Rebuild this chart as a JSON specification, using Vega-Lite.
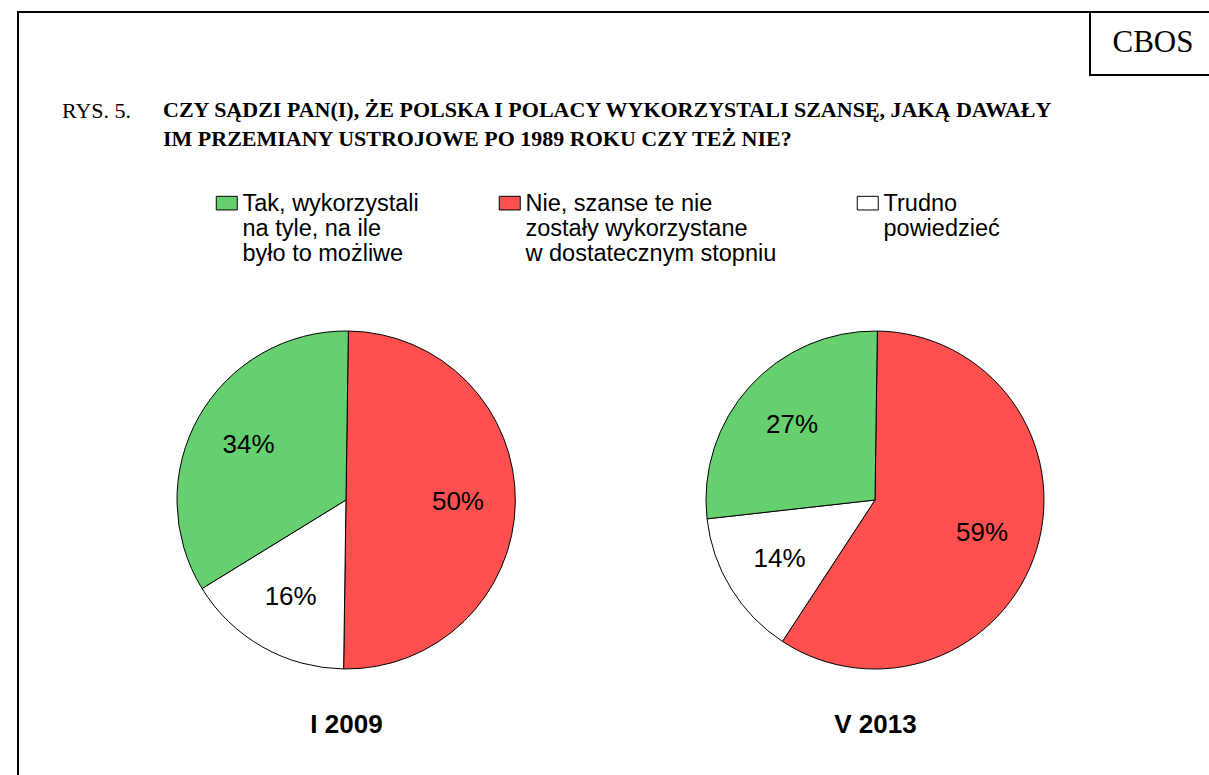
{
  "$schema": "https://vega.github.io/schema/vega-lite/v6.json",
  "width": 1209,
  "height": 550,
  "autosize": {"type": "none"},
  "padding": {"left": 0, "top": 225, "right": 0, "bottom": 0},
  "background": "white",
  "data": {
    "values": [
      {"survey": "I 2009", "answer": "Nie, szanse te nie zostały wykorzystane w dostatecznym stopniu", "share": 0.50, "order": 1},
      {"survey": "I 2009", "answer": "Trudno powiedzieć", "share": 0.16, "order": 2},
      {"survey": "I 2009", "answer": "Tak, wykorzystali na tyle, na ile było to możliwe", "share": 0.34, "order": 3},
      {"survey": "V 2013", "answer": "Nie, szanse te nie zostały wykorzystane w dostatecznym stopniu", "share": 0.59, "order": 1},
      {"survey": "V 2013", "answer": "Trudno powiedzieć", "share": 0.14, "order": 2},
      {"survey": "V 2013", "answer": "Tak, wykorzystali na tyle, na ile było to możliwe", "share": 0.27, "order": 3}
    ]
  },
  "title": {
    "text": ["CZY SĄDZI PAN(I), ŻE POLSKA I POLACY WYKORZYSTALI SZANSĘ, JAKĄ DAWAŁY", "IM PRZEMIANY USTROJOWE PO 1989 ROKU CZY TEŻ NIE?"],
    "anchor": "start",
    "frame": "group",
    "dx": 163,
    "offset": -141,
    "font": "Liberation Serif",
    "fontSize": 22,
    "fontWeight": "bold",
    "color": "black",
    "lineHeight": 29
  },
  "config": {
    "view": {"stroke": null},
    "legend": {
      "orient": "none",
      "legendX": 215,
      "legendY": -45,
      "direction": "horizontal",
      "columns": 3,
      "columnPadding": 78,
      "labelFont": "Liberation Sans",
      "labelFontSize": 23.5,
      "labelColor": "black",
      "labelLimit": 500,
      "labelOffset": 4,
      "labelBaseline": "top",
      "symbolType": "M-1,0.4H1V1.7H-1Z",
      "symbolSize": 441,
      "symbolStrokeColor": "black",
      "symbolStrokeWidth": 1,
      "symbolOpacity": 1
    },
    "style": {"guide-label": {"lineHeight": 25}}
  },
  "layer": [
    {
      "transform": [{"filter": "datum.survey === 'I 2009'"}],
      "layer": [
        {
          "mark": {"type": "arc", "radius": 169, "stroke": "black", "strokeWidth": 1},
          "encoding": {
            "x": {"field": "survey", "type": "nominal", "title": null,
              "scale": {"type": "point", "domain": ["I 2009", "V 2013"], "padding": 0.6427, "align": 0.5088},
              "axis": {"orient": "bottom", "offset": -51, "domain": false, "ticks": false, "grid": false, "labelAngle": 0, "labelPadding": 0, "labelBaseline": "middle", "labelFont": "Liberation Sans", "labelFontSize": 26, "labelFontWeight": "bold", "labelColor": "black"}},
            "theta": {"field": "share", "type": "quantitative", "stack": true, "scale": {"domain": [0, 1], "range": [0.014, 6.2972]}},
            "order": {"field": "order", "type": "quantitative"},
            "color": {"field": "answer", "type": "nominal",
              "scale": {"domain": ["Tak, wykorzystali na tyle, na ile było to możliwe", "Nie, szanse te nie zostały wykorzystane w dostatecznym stopniu", "Trudno powiedzieć"], "range": ["#66CF70", "#FF5050", "#FFFFFF"]},
              "legend": {"title": null, "labelExpr": "datum.label === 'Trudno powiedzieć' ? ['Trudno', 'powiedzieć', ''] : indexof(datum.label, 'Tak') === 0 ? ['Tak, wykorzystali', 'na tyle, na ile', 'było to możliwe'] : ['Nie, szanse te nie', 'zostały wykorzystane', 'w dostatecznym stopniu']"}}
          }
        },
        {
          "mark": {"type": "text", "radius": 112, "font": "Liberation Sans", "fontSize": 26, "color": "black", "align": "center", "baseline": "middle"},
          "encoding": {
            "x": {"field": "survey", "type": "nominal", "title": null},
            "theta": {"field": "share", "type": "quantitative", "stack": true},
            "order": {"field": "order", "type": "quantitative"},
            "detail": {"field": "answer", "type": "nominal"},
            "text": {"field": "share", "type": "quantitative", "format": ".0%"}
          }
        }
      ]
    },
    {
      "transform": [{"filter": "datum.survey === 'V 2013'"}],
      "layer": [
        {
          "mark": {"type": "arc", "radius": 169, "stroke": "black", "strokeWidth": 1},
          "encoding": {
            "x": {"field": "survey", "type": "nominal", "title": null},
            "theta": {"field": "share", "type": "quantitative", "stack": true},
            "order": {"field": "order", "type": "quantitative"},
            "color": {"field": "answer", "type": "nominal"}
          }
        },
        {
          "mark": {"type": "text", "radius": 112, "font": "Liberation Sans", "fontSize": 26, "color": "black", "align": "center", "baseline": "middle"},
          "encoding": {
            "x": {"field": "survey", "type": "nominal", "title": null},
            "theta": {"field": "share", "type": "quantitative", "stack": true},
            "order": {"field": "order", "type": "quantitative"},
            "detail": {"field": "answer", "type": "nominal"},
            "text": {"field": "share", "type": "quantitative", "format": ".0%"}
          }
        }
      ]
    },
    {
      "data": {"values": [{}]},
      "mark": {"type": "rule", "color": "black", "strokeWidth": 2},
      "encoding": {"x": {"value": 18}, "x2": {"value": 1209}, "y": {"value": -213}}
    },
    {
      "data": {"values": [{}]},
      "mark": {"type": "rule", "color": "black", "strokeWidth": 2},
      "encoding": {"x": {"value": 18}, "y": {"value": -214}, "y2": {"value": 560}}
    },
    {
      "data": {"values": [{}]},
      "mark": {"type": "rect", "fill": null, "fillOpacity": 0, "stroke": "black", "strokeWidth": 2},
      "encoding": {"x": {"value": 1090}, "x2": {"value": 1220}, "y": {"value": -213}, "y2": {"value": -150}}
    },
    {
      "data": {"values": [{}]},
      "mark": {"type": "text", "text": "CBOS", "font": "Liberation Serif", "fontSize": 31, "color": "black", "align": "center", "baseline": "middle"},
      "encoding": {"x": {"value": 1153}, "y": {"value": -182}}
    },
    {
      "data": {"values": [{}]},
      "mark": {"type": "text", "text": "RYS. 5.", "font": "Liberation Serif", "fontSize": 22, "color": "black", "align": "left", "baseline": "alphabetic"},
      "encoding": {"x": {"value": 62}, "y": {"value": -107}}
    }
  ]
}
